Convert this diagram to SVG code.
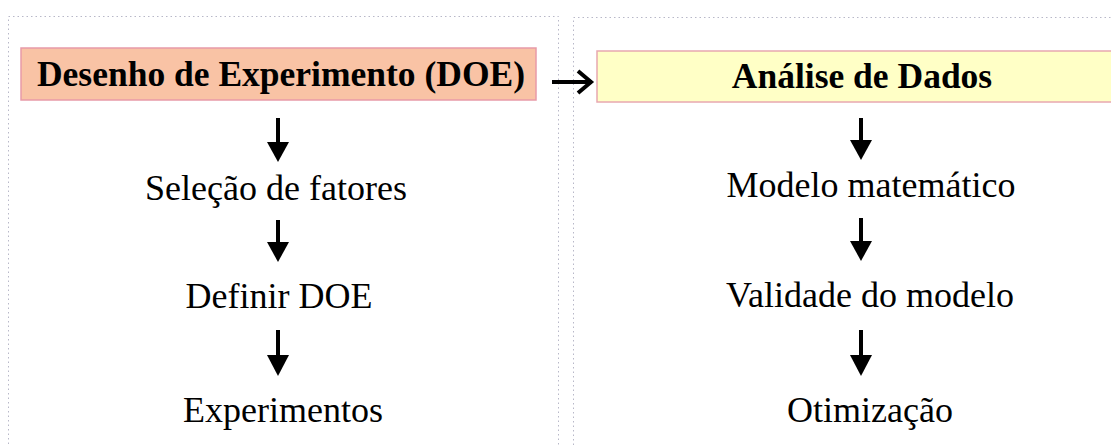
<svg xmlns="http://www.w3.org/2000/svg" width="1111" height="445" viewBox="0 0 1111 445">
<style>
.panel{fill:none;stroke:#b8b8c8;stroke-width:1;stroke-dasharray:1.5 3}
.hdr{font-family:"Liberation Serif",serif;font-weight:bold;font-size:35.5px;fill:#000;text-anchor:middle}
.lbl{font-family:"Liberation Serif",serif;font-size:36px;fill:#000;text-anchor:middle}
.ln{stroke:#000;stroke-width:4;fill:none}
</style>
<rect class="panel" x="8.5" y="16.5" width="550" height="440"/>
<rect class="panel" x="573.5" y="17.5" width="550" height="440"/>
<g id="doe">
<rect x="21" y="48" width="515" height="52" fill="#f9c3a5" stroke="#e89aa8" stroke-width="1.5"/>
<text class="hdr" x="281" y="86">Desenho de Experimento (DOE)</text>
</g>
<g id="analise">
<rect x="597" y="51" width="520" height="51" fill="#ffffc6" stroke="#e8a8b0" stroke-width="1.5"/>
<text class="hdr" x="862" y="88">Análise de Dados</text>
</g>
<g id="selecao"><text class="lbl" x="276" y="200">Seleção de fatores</text></g>
<g id="definir"><text class="lbl" x="279" y="308">Definir DOE</text></g>
<g id="experimentos"><text class="lbl" x="283" y="422">Experimentos</text></g>
<g id="modelo"><text class="lbl" x="871" y="197">Modelo matemático</text></g>
<g id="validade"><text class="lbl" x="870" y="307">Validade do modelo</text></g>
<g id="otimizacao"><text class="lbl" x="870" y="422">Otimização</text></g>
<g id="connectors">
<g fill="#000">
<line class="ln" x1="278" y1="118" x2="278" y2="144"/><path d="M267,142 L289,142 L278,162 z"/>
<line class="ln" x1="278" y1="220" x2="278" y2="244"/><path d="M267,242 L289,242 L278,262 z"/>
<line class="ln" x1="278" y1="330" x2="278" y2="357"/><path d="M267,355 L289,355 L278,376 z"/>
<line class="ln" x1="861" y1="118" x2="861" y2="142"/><path d="M850,140 L872,140 L861,160 z"/>
<line class="ln" x1="861" y1="218" x2="861" y2="243"/><path d="M850,241 L872,241 L861,261 z"/>
<line class="ln" x1="861" y1="330" x2="861" y2="357"/><path d="M850,355 L872,355 L861,376 z"/>
</g>
<path d="M552,82 L590,82 M578,71 L591,82 L578,93" stroke="#000" stroke-width="4" fill="none"/>
</g>
</svg>
